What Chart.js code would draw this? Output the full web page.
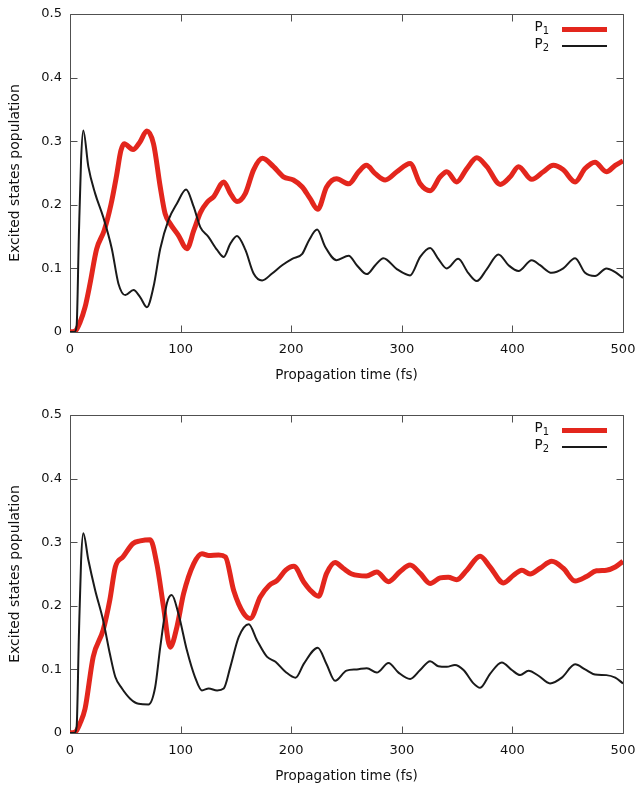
<!DOCTYPE html>
<html>
<head>
<meta charset="utf-8">
<script src="https://cdn.jsdelivr.net/npm/chart.js@4.4.1/dist/chart.umd.min.js"></script>
<style>
  html, body { margin: 0; padding: 0; background: #fff; overflow: hidden; }
  #wrap { position: relative; width: 639px; height: 785px; font-family: "DejaVu Sans", sans-serif; }
  .panel { position: absolute; left: 0; width: 639px; height: 384px; }
  .leg { position: absolute; font-size: 13.5px; color: #111; line-height: 1; }
  .leg .lab { position: absolute; right: 90px; white-space: nowrap; }
  .leg sub { font-size: 10px; vertical-align: -3px; line-height: 0; }
  .sample { position: absolute; left: 562px; width: 45px; }
</style>
</head>
<body>
<div id="wrap">
  <div class="panel" style="top:0px"><canvas id="c1"></canvas></div>
  <div class="panel" style="top:401px"><canvas id="c2"></canvas></div>
</div>
<script>
// ---- axis ticks ----
const xTicks = [0, 100, 200, 300, 400, 500];
const yTicks = [0, 0.1, 0.2, 0.3, 0.4, 0.5];
const seriesNames = ['P1', 'P2'];

// ---- top panel ----
const topP1Time = [0,5,9,13.6,18,24,31,37,42,46,49,57,63,69.5,75.5,81.6,86,90.7,98,105.7,112,118,124,130,139,145,151,158.6,166,174,184,193,202,210,217,224,232,241,252,261,268,276,285,295.5,307.5,316.6,325.6,334.7,340.7,349.7,358.8,367.8,376.9,389,398,405.5,417.5,428,437,446,456.7,465.7,474.7,485,493,500];
const topP1 = [0,0.002,0.015,0.039,0.075,0.13,0.16,0.2,0.245,0.285,0.296,0.287,0.298,0.316,0.296,0.228,0.186,0.17,0.152,0.131,0.16,0.188,0.204,0.213,0.236,0.218,0.205,0.218,0.255,0.273,0.26,0.244,0.239,0.228,0.21,0.193,0.228,0.241,0.233,0.252,0.262,0.249,0.239,0.252,0.265,0.233,0.222,0.244,0.252,0.236,0.257,0.274,0.26,0.232,0.244,0.26,0.24,0.252,0.262,0.255,0.236,0.257,0.267,0.252,0.262,0.269];
const topP2Time = [0,4,6,8,10,12,16.6,22.7,30,37.8,43.8,50,57.4,63.4,69.5,75.5,81.6,89,96.7,105,111.8,117.8,125,133,139,145,151,158.6,166,173.7,182.7,191.8,200.9,210,216,223.5,230.7,241,252,259.3,268.4,276,283.4,295.5,307.5,316.6,325.6,333,340.7,351,360,367.8,376.9,387.4,396.5,405.5,417.5,425,435.6,446,456.7,465.7,474.7,485,493,500];
const topP2 = [0,0,0.01,0.15,0.27,0.317,0.26,0.218,0.181,0.131,0.076,0.058,0.066,0.055,0.039,0.071,0.131,0.176,0.202,0.224,0.197,0.165,0.15,0.129,0.118,0.139,0.151,0.129,0.092,0.081,0.092,0.105,0.115,0.123,0.144,0.161,0.134,0.113,0.12,0.105,0.091,0.105,0.116,0.099,0.089,0.118,0.132,0.115,0.1,0.115,0.093,0.08,0.099,0.122,0.105,0.096,0.113,0.105,0.093,0.1,0.116,0.093,0.088,0.1,0.094,0.085];

// ---- bottom panel ----
const botP1Time = [0,5,9,13.6,21,30,36,41,48,57,63.4,72.5,78.5,84.6,90.6,96.7,102.7,111.8,119.3,125.4,134.4,140.5,148,157,163,172,180,187.3,195,202.4,211.5,217,224.7,232,239.7,247,254.8,268,277.4,288,298.5,307.5,316.6,325.6,334.7,342,349.7,358.8,370.8,379.8,392,401,408.5,416,425,435.6,446,456.7,467,476,485,493,500];
const botP1 = [0,0.002,0.015,0.038,0.12,0.162,0.209,0.261,0.277,0.298,0.302,0.304,0.266,0.198,0.135,0.167,0.219,0.266,0.282,0.279,0.28,0.277,0.224,0.188,0.18,0.214,0.232,0.24,0.256,0.262,0.237,0.225,0.215,0.251,0.268,0.259,0.25,0.247,0.253,0.238,0.254,0.264,0.251,0.235,0.244,0.245,0.241,0.256,0.278,0.261,0.236,0.248,0.256,0.25,0.259,0.27,0.259,0.239,0.246,0.255,0.256,0.261,0.27];
const botP2Time = [0,4,6,8,10,12,16.6,22.7,30,36,41,47,54.4,62,71,77,81.6,87.6,92,98,105.7,113,119.3,125.4,133,139,145,152.6,161.6,169,178,185.8,195,204,211.5,224,232,239.7,250,259.3,268.4,277.4,288,297,307.5,316.6,325.6,333,340.7,348,355.8,364.8,370.8,379.8,390.4,399.5,407,414.6,423.6,434,444.7,456.7,465.7,474.7,485,493,500];
const botP2 = [0,0,0.01,0.15,0.27,0.314,0.272,0.225,0.177,0.125,0.088,0.07,0.054,0.046,0.045,0.072,0.135,0.204,0.217,0.188,0.13,0.088,0.067,0.07,0.067,0.07,0.104,0.151,0.171,0.146,0.12,0.112,0.096,0.087,0.109,0.134,0.108,0.082,0.098,0.1,0.102,0.095,0.11,0.095,0.085,0.099,0.113,0.105,0.104,0.107,0.099,0.078,0.071,0.093,0.111,0.099,0.091,0.098,0.09,0.078,0.087,0.108,0.1,0.092,0.091,0.087,0.078];

const RED = '#e3261d';
const BLACK = '#1a1a1a';
const FRAME = '#505050';

function pts(t, v) { return t.map((x, i) => ({ x: x, y: v[i] })); }

// frame + inward mirrored ticks (gnuplot style)
const framePlugin = {
  id: 'frame',
  beforeDatasetsDraw(chart) {
    const { ctx, chartArea: a, scales } = chart;
    const L = Math.round(a.left) + 0.5, R = Math.round(a.right) + 0.5;
    const T = Math.round(a.top) + 0.5, B = Math.round(a.bottom) + 0.5;
    const len = 7;
    ctx.save();
    ctx.strokeStyle = FRAME;
    ctx.lineWidth = 1;
    ctx.beginPath();
    ctx.rect(L, T, R - L, B - T);
    xTicks.forEach(v => {
      const px = Math.round(scales.x.getPixelForValue(v)) + 0.5;
      ctx.moveTo(px, B); ctx.lineTo(px, B - len);
      ctx.moveTo(px, T); ctx.lineTo(px, T + len);
    });
    yTicks.forEach(v => {
      const py = Math.round(scales.y.getPixelForValue(v)) + 0.5;
      ctx.moveTo(L, py); ctx.lineTo(L + len, py);
      ctx.moveTo(R, py); ctx.lineTo(R - len, py);
    });
    ctx.stroke();
    ctx.restore();
  }
};

function zeroPad(s) { s.paddingLeft = 0; s.paddingRight = 0; s.paddingTop = 0; s.paddingBottom = 0; }

function makeChart(id, p1t, p1, p2t, p2) {
  return new Chart(document.getElementById(id), {
    type: 'line',
    data: {
      datasets: [
        { label: seriesNames[0], data: pts(p1t, p1), borderColor: RED, borderWidth: 5,
          pointRadius: 0, cubicInterpolationMode: 'monotone', fill: false, order: 2 },
        { label: seriesNames[1], data: pts(p2t, p2), borderColor: BLACK, borderWidth: 2,
          pointRadius: 0, cubicInterpolationMode: 'monotone', fill: false, order: 1 }
      ]
    },
    options: {
      responsive: true,
      maintainAspectRatio: false,
      animation: false,
      events: [],
      layout: { padding: { top: 14, right: 16, left: 0, bottom: 0 } },
      plugins: { legend: { display: false }, tooltip: { enabled: false } },
      scales: {
        x: {
          type: 'linear', min: 0, max: 500,
          afterBuildTicks(s) { s.ticks = xTicks.map(v => ({ value: v })); },
          afterFit(s) { s.height = 52; zeroPad(s); },
          grid: { display: false, drawTicks: false },
          border: { display: false },
          ticks: { padding: 10, color: '#111', font: { family: 'DejaVu Sans', size: 13 }, maxRotation: 0,
                   callback: v => String(v) },
          title: { display: true, text: 'Propagation time (fs)', color: '#111',
                   font: { family: 'DejaVu Sans', size: 13.5 }, padding: { top: 0, bottom: 0 } }
        },
        y: {
          type: 'linear', min: 0, max: 0.5,
          afterBuildTicks(s) { s.ticks = yTicks.map(v => ({ value: v })); },
          afterFit(s) { s.width = 70; zeroPad(s); },
          grid: { display: false, drawTicks: false },
          border: { display: false },
          ticks: { padding: 8, color: '#111', font: { family: 'DejaVu Sans', size: 13 },
                   callback: v => String(Math.round(v * 10) / 10) },
          title: { display: true, text: 'Excited states population', color: '#111',
                   font: { family: 'DejaVu Sans', size: 14 }, padding: { top: 7, bottom: 0 } }
        }
      }
    },
    plugins: [framePlugin]
  });
}

makeChart('c1', topP1Time, topP1, topP2Time, topP2);
makeChart('c2', botP1Time, botP1, botP2Time, botP2);

// legends (HTML text with subscripts)
const wrap = document.getElementById('wrap');
[0, 401].forEach(off => {
  const rows = [
    { name: 'P', sub: '1', color: RED, w: 5, y: off + 29 },
    { name: 'P', sub: '2', color: BLACK, w: 2, y: off + 46 }
  ];
  rows.forEach(r => {
    const d = document.createElement('div');
    d.className = 'leg';
    d.style.left = '0px'; d.style.top = '0px'; d.style.width = '639px';
    const lab = document.createElement('span');
    lab.className = 'lab';
    lab.style.top = (r.y - 9) + 'px';
    lab.innerHTML = r.name + '<sub>' + r.sub + '</sub>';
    d.appendChild(lab);
    const s = document.createElement('div');
    s.className = 'sample';
    s.style.top = (r.y - r.w / 2) + 'px';
    s.style.height = r.w + 'px';
    s.style.background = r.color;
    d.appendChild(s);
    wrap.appendChild(d);
  });
});
</script>
</body>
</html>
